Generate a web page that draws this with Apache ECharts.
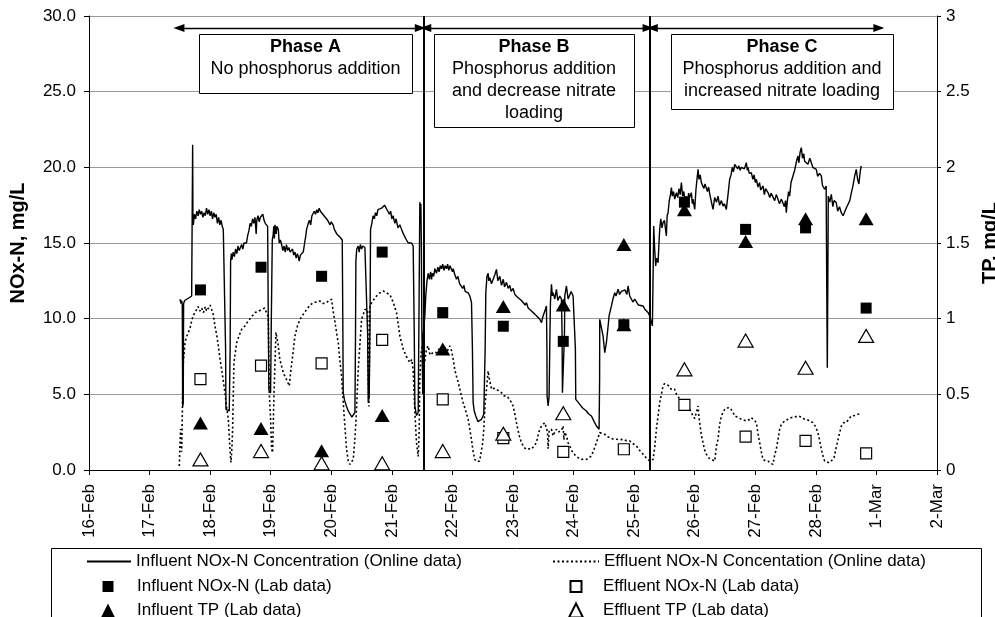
<!DOCTYPE html>
<html>
<head>
<meta charset="utf-8">
<script src="https://cdn.jsdelivr.net/npm/echarts@6/dist/echarts.min.js"></script>
<style>
html,body{margin:0;padding:0;background:#fff;}
#chart{width:995px;height:617px;}
</style>
</head>
<body>
<div id="chart"></div>
<script>
// x values are days after 16-Feb 00:00
const tickLabels = ['16-Feb','17-Feb','18-Feb','19-Feb','20-Feb','21-Feb','22-Feb','23-Feb','24-Feb','25-Feb','26-Feb','27-Feb','28-Feb','1-Mar','2-Mar'];

const seriesNames = [
  'Influent NOx-N Concentration (Online data)',
  'Effluent NOx-N Concentation (Online data)',
  'Influent NOx-N (Lab data)',
  'Effluent NOx-N (Lab data)',
  'Influent TP (Lab data)',
  'Effluent TP (Lab data)'
];

const influentOnline = [
[1.502,11.28],[1.52,11.0],[1.53,11.2],[1.54,10.9],[1.546,4.2],[1.556,4.4],[1.562,11.0],[1.58,11.2],[1.61,11.3],[1.66,11.4],[1.695,11.5],[1.705,11.6],[1.711,21.5],[1.716,16.6],[1.722,16.2],
[1.74,16.9],[1.76,16.6],[1.78,17.1],[1.80,16.8],[1.82,17.2],[1.84,16.9],[1.86,17.1],[1.88,16.7],[1.90,17.0],[1.92,16.8],[1.94,17.3],[1.96,16.9],[1.98,17.2],[2.00,16.8],[2.02,17.1],[2.04,16.6],[2.06,17.0],[2.08,16.7],[2.10,16.9],[2.12,16.3],[2.14,16.7],[2.16,16.2],[2.18,16.5],[2.20,16.1],[2.217,15.9],[2.245,15.9],[2.255,8.0],[2.261,4.0],[2.29,3.9],[2.316,3.9],[2.33,8.0],
[2.338,13.8],[2.35,14.3],[2.36,13.9],[2.38,14.4],[2.40,14.1],[2.42,14.6],[2.44,14.3],[2.46,14.8],[2.48,14.5],[2.50,14.7],[2.52,14.9],[2.54,14.6],[2.56,15.0],[2.58,15.1],[2.60,15.0],[2.62,15.5],[2.64,15.8],[2.66,16.3],[2.68,16.1],[2.70,16.6],[2.72,16.3],[2.74,16.7],[2.76,15.6],[2.77,16.5],[2.79,16.8],[2.81,16.4],[2.83,16.7],[2.85,16.6],[2.87,16.9],[2.89,16.5],[2.91,16.3],[2.93,16.2],[2.949,16.1],[2.96,10.0],[2.97,5.3],[2.998,5.1],[3.01,10.0],
[3.026,15.2],[3.04,15.5],[3.05,16.1],[3.06,15.3],[3.07,16.2],[3.09,15.6],[3.10,16.1],[3.125,15.9],[3.14,15.0],[3.16,15.2],[3.18,14.9],[3.20,14.5],[3.22,14.8],[3.24,14.4],[3.26,14.9],[3.28,14.5],[3.30,14.7],[3.32,14.4],[3.34,14.3],[3.36,14.6],[3.38,14.2],[3.40,14.4],[3.42,14.0],[3.44,14.3],[3.455,14.1],[3.47,13.8],[3.49,14.2],[3.51,14.3],[3.537,14.4],[3.56,15.0],[3.58,15.5],[3.592,15.9],[3.62,16.3],[3.64,16.5],[3.66,16.2],[3.68,16.8],[3.70,16.7],[3.72,17.1],[3.74,16.9],[3.76,17.2],[3.78,17.0],[3.80,17.3],[3.82,17.1],[3.84,17.2],[3.86,16.9],[3.88,17.0],[3.90,16.7],[3.922,16.8],[3.94,16.5],[3.96,16.6],[3.98,16.2],[4.00,16.4],[4.03,16.2],[4.05,15.9],[4.07,16.0],[4.09,15.6],[4.11,15.7],[4.142,15.4],[4.16,15.3],[4.181,15.2],[4.19,10.0],[4.197,5.1],[4.22,4.6],[4.252,4.2],[4.28,3.9],[4.31,3.7],[4.34,3.5],[4.362,3.6],[4.39,3.8],[4.40,9.0],
[4.406,13.8],[4.42,14.6],[4.445,14.8],[4.46,14.4],[4.48,14.9],[4.50,14.6],[4.52,14.8],[4.555,14.7],[4.582,14.8],[4.60,9.0],[4.61,4.45],[4.626,4.9],[4.64,10.0],[4.648,15.9],[4.67,16.3],[4.69,16.8],[4.71,16.6],[4.73,17.0],[4.75,16.8],[4.77,17.2],[4.80,17.1],[4.83,17.3],[4.86,17.2],[4.88,17.5],[4.901,17.6],[4.92,17.2],[4.94,17.3],[4.96,16.9],[4.98,17.1],[5.00,16.6],[5.02,16.8],[5.05,16.3],[5.07,16.6],[5.10,16.0],[5.132,16.2],[5.16,15.9],[5.19,15.6],[5.21,15.7],[5.242,15.2],[5.27,15.0],[5.30,14.9],[5.325,15.0],[5.352,14.8],[5.37,9.0],[5.38,4.2],[5.407,3.6],[5.435,3.8],[5.451,12.0],[5.462,17.7],[5.47,16.5],[5.479,17.6],[5.487,15.0],[5.495,9.5],[5.51,5.0],[5.52,9.0],
[5.545,10.2],[5.56,11.5],[5.58,12.5],[5.60,13.0],[5.62,12.6],[5.64,13.1],[5.655,12.6],[5.67,13.0],[5.69,12.8],[5.71,13.3],[5.737,13.0],[5.76,13.4],[5.78,13.1],[5.80,13.5],[5.82,13.3],[5.84,13.6],[5.86,13.2],[5.88,13.5],[5.902,13.3],[5.92,13.6],[5.94,13.2],[5.96,13.5],[5.985,13.5],[6.00,13.1],[6.012,13.3],[6.04,12.9],[6.067,12.6],[6.09,12.8],[6.12,12.3],[6.15,12.4],[6.17,12.0],[6.19,12.2],[6.21,11.8],[6.232,11.9],[6.26,11.7],[6.287,11.5],[6.30,11.3],[6.315,11.06],[6.33,8.0],[6.342,4.45],[6.36,3.9],[6.386,3.57],[6.42,3.2],[6.452,3.13],[6.48,3.35],[6.518,3.68],[6.54,8.0],
[6.551,11.7],[6.57,12.8],[6.59,13.0],[6.60,12.5],[6.617,12.7],[6.645,12.3],[6.672,12.6],[6.70,12.9],[6.727,13.26],[6.75,12.5],[6.782,12.8],[6.81,12.2],[6.84,12.6],[6.86,12.1],[6.892,12.4],[6.92,12.0],[6.947,12.2],[6.97,11.8],[7.002,12.0],[7.03,11.6],[7.057,11.7],[7.08,11.4],[7.112,11.5],[7.14,11.2],[7.17,11.3],[7.20,10.9],[7.222,11.06],[7.25,10.7],[7.28,10.8],[7.305,10.5],[7.332,10.6],[7.36,10.3],[7.387,10.4],[7.41,10.1],[7.442,9.96],[7.47,9.74],[7.497,10.18],[7.525,10.5],[7.552,10.84],[7.56,8.0],[7.563,4.89],[7.58,4.23],[7.596,4.89],[7.61,9.0],
[7.618,11.06],[7.635,12.27],[7.65,11.5],[7.662,11.72],[7.69,11.3],[7.717,11.94],[7.74,11.2],[7.772,11.5],[7.80,11.28],[7.81,9.0],[7.816,5.11],[7.838,5.11],[7.85,9.0],[7.855,11.5],[7.882,12.16],[7.91,11.3],[7.937,11.28],[7.96,11.8],[7.992,11.5],[8.02,11.5],[8.03,8.0],[8.036,4.67],[8.07,4.5],[8.102,4.34],[8.15,4.1],[8.212,3.9],[8.25,3.7],[8.295,3.57],[8.34,3.2],[8.377,2.91],[8.421,2.69],[8.43,6.0],
[8.432,9.96],[8.46,9.96],[8.487,8.85],[8.515,7.75],[8.542,8.41],[8.57,9.5],[8.586,10.18],[8.625,10.84],[8.65,11.3],[8.68,11.72],[8.70,11.5],[8.735,11.94],[8.76,11.6],[8.79,11.8],[8.817,11.72],[8.85,11.9],[8.88,11.6],[8.90,12.16],[8.927,11.5],[8.955,11.5],[8.98,11.1],[9.01,11.3],[9.037,11.28],[9.07,10.9],[9.10,11.0],[9.147,10.84],[9.18,10.6],[9.21,10.5],[9.23,10.4],[9.257,10.18],[9.285,10.07],[9.301,9.52],[9.31,12.0],
[9.323,16.12],[9.34,14.5],[9.356,13.48],[9.37,14.0],[9.395,13.7],[9.41,15.0],[9.422,15.9],[9.44,16.6],[9.46,16.0],[9.477,16.34],[9.50,16.5],[9.532,15.46],[9.545,16.8],[9.56,17.0],[9.58,17.8],[9.60,18.2],[9.615,18.66],[9.63,18.1],[9.65,18.4],[9.67,17.9],[9.697,18.33],[9.72,18.0],[9.74,18.6],[9.76,18.2],[9.78,18.99],[9.80,18.1],[9.82,18.4],[9.84,17.8],[9.862,18.1],[9.88,17.7],[9.90,18.3],[9.917,18.0],[9.945,18.33],[9.96,17.6],[9.972,17.9],[10.0,17.22],[10.02,18.5],[10.04,19.3],[10.055,19.87],[10.07,19.2],[10.09,19.5],[10.11,18.99],[10.13,19.1],[10.15,18.6],[10.17,18.9],[10.192,18.77],[10.21,18.4],[10.23,18.7],[10.25,18.2],[10.275,18.1],[10.302,17.22],[10.33,18.0],[10.36,17.7],[10.385,18.1],[10.41,17.5],[10.44,17.8],[10.467,17.44],[10.49,17.6],[10.522,17.22],[10.55,18.2],[10.577,19.21],[10.60,19.5],[10.62,20.0],[10.64,19.7],[10.66,20.2],[10.687,20.2],[10.71,19.9],[10.73,20.1],[10.75,19.8],[10.77,20.0],[10.797,20.09],[10.82,19.9],[10.852,20.31],[10.87,19.8],[10.88,20.0],[10.90,19.6],[10.935,19.65],[10.96,19.2],[10.98,19.5],[11.0,19.0],[11.017,19.21],[11.045,18.7],[11.07,18.99],[11.09,18.5],[11.127,18.77],[11.15,18.2],[11.17,18.6],[11.21,18.33],[11.24,18.0],[11.26,18.3],[11.292,18.22],[11.32,17.8],[11.347,18.2],[11.375,18.1],[11.40,17.6],[11.43,17.9],[11.457,17.78],[11.48,17.4],[11.50,17.8],[11.512,17.0],[11.53,17.8],[11.55,18.4],[11.567,18.1],[11.59,19.0],[11.622,19.43],[11.65,19.8],[11.68,20.4],[11.705,20.75],[11.72,20.3],[11.74,21.0],[11.76,21.3],[11.78,20.6],[11.80,20.9],[11.815,20.4],[11.842,20.53],[11.87,20.2],[11.90,20.6],[11.925,20.53],[11.95,20.0],[11.98,19.9],[12.007,19.87],[12.03,19.4],[12.06,19.6],[12.09,19.43],[12.11,18.8],[12.145,18.55],[12.17,18.77],[12.18,12.0],[12.189,6.76],[12.197,12.0],[12.205,18.1],[12.23,17.7],[12.255,18.22],[12.28,17.4],[12.30,17.8],[12.337,17.67],[12.36,17.1],[12.39,17.4],[12.42,17.0],[12.45,16.8],[12.475,16.67],[12.50,17.3],[12.53,17.22],[12.56,17.8],[12.585,18.3],[12.612,18.77],[12.64,19.4],[12.667,19.87],[12.69,19.2],[12.71,18.9],[12.722,18.88],[12.735,19.8],[12.75,20.09]
];

const effluentOnline = [
[1.491,0.26],[1.50,1.5],[1.513,2.7],[1.53,1.2],[1.546,4.9],[1.557,7.1],[1.585,8.4],[1.61,8.8],[1.64,8.9],[1.67,9.4],[1.695,9.85],[1.72,10.2],[1.75,10.4],[1.777,10.5],[1.80,10.8],[1.83,10.5],[1.86,10.7],[1.89,10.4],[1.92,10.8],[1.942,10.5],[1.97,10.6],[2.00,10.9],[2.025,10.8],[2.05,10.3],[2.08,9.5],[2.11,8.9],[2.135,8.2],[2.16,7.4],[2.19,6.65],[2.22,5.8],[2.245,5.1],[2.27,4.2],[2.3,3.35],[2.327,1.37],[2.344,0.5],[2.36,1.5],[2.371,2.7],[2.393,7.1],[2.437,8.4],[2.48,8.9],[2.52,9.3],[2.57,9.5],[2.63,9.85],[2.68,10.1],[2.74,10.4],[2.80,10.5],[2.85,10.6],[2.90,10.7],[2.932,10.8],[2.96,10.1],[2.976,5.1],[2.998,3.35],[3.015,1.37],[3.031,1.15],[3.053,4.9],[3.086,9.1],[3.125,8.2],[3.15,7.3],[3.18,6.85],[3.21,6.4],[3.235,6.2],[3.27,5.9],[3.306,5.55],[3.33,6.5],[3.361,7.5],[3.4,8.85],[3.44,9.5],[3.482,9.95],[3.54,10.3],[3.592,10.6],[3.65,10.9],[3.702,11.06],[3.76,11.1],[3.812,11.17],[3.87,11.0],[3.922,11.06],[3.96,11.2],[4.005,11.28],[4.03,10.5],[4.06,9.8],[4.09,9.0],[4.115,8.4],[4.14,7.3],[4.17,6.2],[4.208,3.8],[4.23,2.6],[4.252,1.37],[4.28,0.6],[4.307,0.37],[4.34,0.5],[4.362,0.7],[4.385,1.8],[4.406,3.13],[4.445,6.65],[4.5,9.96],[4.555,10.6],[4.60,10.6],[4.61,6.0],[4.621,4.2],[4.63,7.0],[4.637,10.84],[4.69,11.2],[4.747,11.5],[4.80,11.7],[4.857,11.83],[4.91,11.7],[4.967,11.6],[5.02,11.1],[5.077,10.4],[5.11,9.5],[5.132,8.85],[5.187,8.0],[5.24,7.5],[5.297,7.1],[5.33,7.3],[5.352,6.5],
[5.38,3.8],[5.407,1.8],[5.435,0.9],[5.45,2.5],[5.462,6.0],[5.48,7.6],[5.50,8.2],[5.52,7.5],[5.545,7.2],[5.57,8.0],[5.6,8.2],[5.63,7.6],[5.655,7.53],[5.69,7.8],[5.737,7.75],[5.78,8.0],[5.82,7.9],[5.847,8.0],[5.88,8.1],[5.902,7.7],[5.93,8.0],[5.957,8.2],[5.985,7.9],[6.012,7.31],[6.04,6.6],[6.067,6.2],[6.095,5.8],[6.13,5.2],[6.177,4.45],[6.22,3.9],[6.26,3.35],[6.287,2.7],[6.315,2.0],[6.342,1.2],[6.37,0.7],[6.40,0.55],[6.425,0.48],[6.45,0.6],[6.48,0.7],[6.50,1.8],[6.518,2.69],[6.54,4.4],[6.562,5.33],[6.59,6.54],[6.60,6.2],[6.617,6.21],[6.645,5.33],[6.68,5.4],[6.727,5.33],[6.77,5.2],[6.81,5.11],[6.85,4.9],[6.892,4.89],[6.947,4.67],[7.002,4.23],[7.03,3.7],[7.057,3.13],[7.10,2.3],[7.14,1.81],[7.18,1.5],[7.222,1.37],[7.26,1.4],[7.305,1.37],[7.35,1.6],[7.387,1.81],[7.42,2.4],[7.442,2.69],[7.47,2.9],[7.525,3.13],[7.55,3.0],[7.57,2.5],[7.58,1.4],[7.596,2.6],[7.635,2.69],[7.662,2.25],[7.69,2.5],[7.717,2.69],[7.745,2.5],[7.772,2.47],[7.80,2.6],[7.827,2.91],[7.84,2.0],[7.855,2.5],[7.882,2.25],[7.91,1.8],[7.937,1.59],[7.965,1.3],[7.992,1.15],[8.02,1.0],[8.047,0.93],[8.08,0.8],[8.13,0.7],[8.17,0.72],[8.212,0.7],[8.25,0.8],[8.295,0.93],[8.34,1.4],[8.377,1.81],[8.432,2.47],[8.46,2.4],[8.515,2.36],[8.56,2.2],[8.597,2.14],[8.65,2.05],[8.707,2.03],[8.76,2.0],[8.817,2.03],[8.86,1.95],[8.927,1.92],[8.98,1.75],[9.037,1.59],[9.09,1.3],[9.147,1.04],[9.20,0.8],[9.23,0.7],[9.257,0.6],[9.285,0.7],[9.312,0.7],
[9.34,1.5],[9.367,2.69],[9.395,3.6],[9.422,4.45],[9.45,5.0],[9.477,5.55],[9.50,5.7],[9.532,5.77],[9.56,5.6],[9.587,5.55],[9.62,5.3],[9.67,5.33],[9.70,5.0],[9.725,4.89],[9.75,4.7],[9.78,4.56],[9.82,4.5],[9.862,4.45],[9.89,4.2],[9.917,4.01],[9.945,3.8],[9.972,3.57],[10.0,3.4],[10.027,3.35],[10.055,4.23],[10.07,3.5],[10.082,3.13],[10.11,2.3],[10.137,1.81],[10.165,1.3],[10.192,1.04],[10.23,0.8],[10.275,0.7],[10.30,0.6],[10.33,0.59],[10.36,1.6],[10.385,2.03],[10.41,3.0],[10.44,3.57],[10.467,3.8],[10.495,4.01],[10.53,4.1],[10.577,4.12],[10.62,3.9],[10.66,3.57],[10.70,3.5],[10.77,3.35],[10.81,3.3],[10.852,3.24],[10.89,3.3],[10.935,3.46],[10.98,3.3],[11.017,3.13],[11.045,2.4],[11.072,1.81],[11.10,1.2],[11.127,0.7],[11.17,0.6],[11.21,0.59],[11.25,0.45],[11.292,0.37],[11.32,1.0],[11.347,1.37],[11.375,2.0],[11.402,2.69],[11.43,3.0],[11.485,3.24],[11.54,3.35],[11.595,3.46],[11.65,3.5],[11.705,3.57],[11.76,3.5],[11.815,3.35],[11.87,3.3],[11.952,3.13],[11.99,2.9],[12.035,2.47],[12.06,2.0],[12.09,1.37],[12.12,0.9],[12.145,0.59],[12.17,0.5],[12.22,0.48],[12.255,0.6],[12.30,0.81],[12.337,1.5],[12.38,2.25],[12.42,2.9],[12.46,3.13],[12.502,3.13],[12.55,3.4],[12.585,3.57],[12.64,3.6],[12.667,3.68],[12.71,3.7],[12.75,3.8]
];

const influentNOxLab = [[1.84,11.9],[2.84,13.4],[3.84,12.8],[4.84,14.4],[5.84,10.4],[6.84,9.5],[7.83,8.5],[8.83,9.6],[9.83,17.7],[10.84,15.9],[11.83,16.0],[12.83,10.7]];
const effluentNOxLab = [[1.84,6.0],[2.84,6.9],[3.84,7.05],[4.84,8.6],[5.84,4.67],[6.84,2.1],[7.83,1.2],[8.83,1.37],[9.83,4.3],[10.84,2.2],[11.83,1.92],[12.83,1.1]];
const influentTPLab = [[1.84,0.31],[2.84,0.275],[3.84,0.128],[4.84,0.36],[5.84,0.80],[6.84,1.08],[7.83,1.09],[8.83,1.49],[8.83,0.96],[9.83,1.72],[10.84,1.51],[11.83,1.66],[12.83,1.66]];
const effluentTPLab = [[1.84,0.07],[2.84,0.125],[3.84,0.044],[4.84,0.044],[5.84,0.125],[6.84,0.24],[7.83,0.375],[9.83,0.665],[10.84,0.855],[11.83,0.676],[12.83,0.886]];

// phase boundaries (days) and phase arrow spans (days)
const phaseBounds = [5.528, 9.257];
const phaseArrows = [[1.485, 5.47], [5.56, 9.23], [9.30, 13.04]];
const arrowLevel = 29.2;

const FONT = '"Liberation Sans", Arial, sans-serif';
const chart = echarts.init(document.getElementById('chart'));

function lineLegend(name, left, top, w) {
  return {
    data: [name], left: left, top: top, padding: 0, itemWidth: w, itemHeight: 12,
    selectedMode: false, orient: 'horizontal',
    itemStyle: { opacity: 0 },
    textStyle: { color: '#000', fontSize: 17, fontFamily: FONT }
  };
}
function markLegend(name, left, top, size, textShift) {
  return {
    data: [name], left: left, top: top, padding: 0, itemWidth: size, itemHeight: size,
    selectedMode: false, orient: 'horizontal',
    textStyle: { color: '#000', fontSize: 17, fontFamily: FONT, padding: [0, 0, 0, textShift] }
  };
}

const phaseBoxes = [
  { x: 199, y: 34, w: 213, h: 59, lines: ['Phase A', 'No phosphorus addition'] },
  { x: 434, y: 34, w: 200, h: 93, lines: ['Phase B', 'Phosphorus addition', 'and decrease nitrate', 'loading'] },
  { x: 671, y: 34, w: 222, h: 75, lines: ['Phase C', 'Phosphorus addition and', 'increased nitrate loading'] }
];
const graphics = [];
phaseBoxes.forEach(b => {
  graphics.push({ type: 'rect', shape: { x: b.x + 0.5, y: b.y + 0.5, width: b.w, height: b.h },
    style: { fill: '#fff', stroke: '#000', lineWidth: 1 }, z: 100 });
  b.lines.forEach((t, i) => {
    graphics.push({ type: 'text', z: 101,
      style: { text: t, x: b.x + b.w / 2, y: b.y + 12.7 + i * 22, textAlign: 'center', textVerticalAlign: 'middle',
        fill: '#000', fontSize: 18, fontFamily: FONT, fontWeight: i === 0 ? 'bold' : 'normal' } });
  });
});
graphics.push({ type: 'rect', shape: { x: 51.5, y: 548.5, width: 930, height: 100 },
  style: { fill: 'none', stroke: '#000', lineWidth: 1 }, z: 0 });

const option = {
  animation: false,
  backgroundColor: '#fff',
  grid: { left: 89, right: 58, top: 16, bottom: 147, containLabel: false, outerBoundsMode: 'none' },
  legend: [
    lineLegend(seriesNames[0], 86, 553, 44),
    lineLegend(seriesNames[1], 552, 553, 46),
    markLegend(seriesNames[2], 102.5, 578, 11, 18.5),
    markLegend(seriesNames[3], 569.5, 578, 11, 16.5),
    markLegend(seriesNames[4], 101, 602, 14, 17),
    markLegend(seriesNames[5], 568, 602, 14, 15)
  ],
  xAxis: {
    type: 'value', min: 0, max: 14, interval: 1,
    axisLine: { show: true, onZero: false, lineStyle: { color: '#000', width: 1 } },
    axisTick: { show: true, inside: false, length: 5, lineStyle: { color: '#000' } },
    axisLabel: { rotate: 90, margin: 14, color: '#000', fontSize: 17, fontFamily: FONT,
      formatter: v => tickLabels[Math.round(v)] || '' },
    splitLine: { show: false }
  },
  yAxis: [
    {
      type: 'value', min: 0, max: 30, interval: 5, position: 'left',
      name: 'NOx-N, mg/L', nameLocation: 'middle', nameRotate: 90, nameGap: 61,
      nameTextStyle: { color: '#000', fontSize: 20, fontWeight: 'bold', fontFamily: FONT },
      axisLine: { show: true, lineStyle: { color: '#000', width: 1 } },
      axisTick: { show: true, inside: false, length: 5, lineStyle: { color: '#000' } },
      axisLabel: { margin: 13, color: '#000', fontSize: 17, fontFamily: FONT, formatter: v => v.toFixed(1) },
      splitLine: { show: true, lineStyle: { color: '#9a9a9a', width: 1 } }
    },
    {
      type: 'value', min: 0, max: 3, interval: 0.5, position: 'right',
      name: 'TP. mg/L', nameLocation: 'middle', nameRotate: 90, nameGap: 43,
      nameTextStyle: { color: '#000', fontSize: 20, fontWeight: 'bold', fontFamily: FONT },
      axisLine: { show: true, lineStyle: { color: '#000', width: 1 } },
      axisTick: { show: true, inside: false, length: 4, lineStyle: { color: '#000' } },
      axisLabel: { margin: 9, color: '#000', fontSize: 17, fontFamily: FONT },
      splitLine: { show: false }
    }
  ],
  series: [
    {
      name: seriesNames[0], type: 'line', yAxisIndex: 0, data: influentOnline,
      symbol: 'none', showSymbol: false, color: '#000',
      lineStyle: { color: '#000', width: 1.4, type: 'solid' }, z: 3,
      markLine: {
        silent: true, animation: false, label: { show: false },
        symbol: ['none', 'none'],
        lineStyle: { color: '#000', width: 2, type: 'solid' },
        data: phaseBounds.map(d => ({ xAxis: d }))
          .concat(phaseArrows.map(a => [
            { coord: [a[0], arrowLevel], symbol: 'triangle', symbolSize: [8, 11], lineStyle: { width: 1.4 } },
            { coord: [a[1], arrowLevel], symbol: 'triangle', symbolSize: [8, 11] }
          ]))
      }
    },
    {
      name: seriesNames[1], type: 'line', yAxisIndex: 0, data: effluentOnline,
      symbol: 'none', showSymbol: false, color: '#000',
      lineStyle: { color: '#000', width: 1.6, type: [2, 2.5] }, z: 3
    },
    {
      name: seriesNames[2], type: 'scatter', yAxisIndex: 0, data: influentNOxLab,
      symbol: 'rect', symbolSize: 11, itemStyle: { color: '#000', opacity: 1 }, z: 5
    },
    {
      name: seriesNames[3], type: 'scatter', yAxisIndex: 0, data: effluentNOxLab,
      symbol: 'rect', symbolSize: 11, itemStyle: { color: '#fff', borderColor: '#000', borderWidth: 1.2, opacity: 1 }, z: 5
    },
    {
      name: seriesNames[4], type: 'scatter', yAxisIndex: 1, data: influentTPLab,
      symbol: 'triangle', symbolSize: [15, 13], itemStyle: { color: '#000', opacity: 1 }, z: 6
    },
    {
      name: seriesNames[5], type: 'scatter', yAxisIndex: 1, data: effluentTPLab,
      symbol: 'triangle', symbolSize: [15, 13], itemStyle: { color: '#fff', borderColor: '#000', borderWidth: 1.2, opacity: 1 }, z: 6
    }
  ],
  graphic: graphics
};
chart.setOption(option);
</script>
</body>
</html>
